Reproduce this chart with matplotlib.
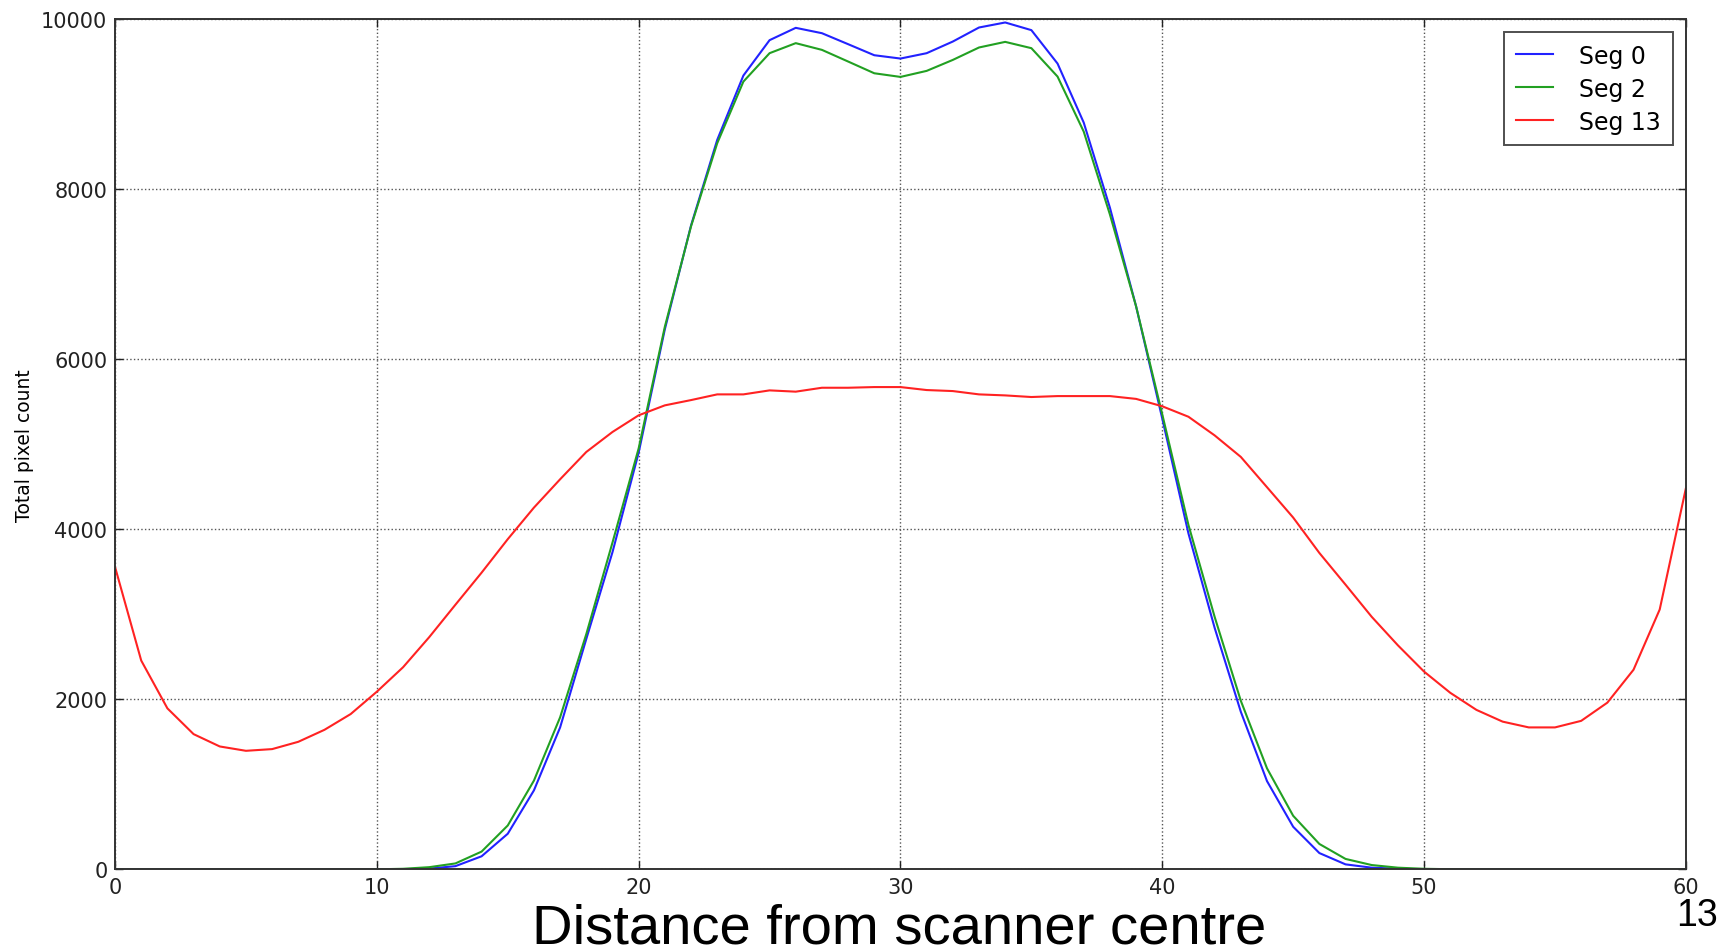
import numpy as np
import matplotlib
matplotlib.use("Agg")
import matplotlib.pyplot as plt

# distance bins
x = np.arange(61)

seg0 = [0, 0, 0, 0, 0, 0, 0, 0, 0, 0,
        0, 3, 10, 39, 155, 420, 930, 1670, 2710, 3730,
        4900, 6350, 7570, 8576, 9333, 9749, 9894, 9831, 9702, 9572,
        9533, 9596, 9733, 9898, 9957, 9867, 9474, 8780, 7780, 6620,
        5300, 3950, 2841, 1854, 1039, 502, 193, 60, 21, 9,
        2, 0, 0, 0, 0, 0, 0, 0, 0, 0, 0]
seg2 = [0, 0, 0, 0, 0, 0, 0, 0, 0, 0,
        2, 8, 27, 71, 210, 517, 1045, 1789, 2767, 3843,
        4950, 6380, 7560, 8537, 9262, 9596, 9714, 9635, 9498, 9360,
        9317, 9388, 9517, 9663, 9729, 9655, 9321, 8674, 7700, 6620,
        5350, 4050, 2970, 1983, 1189, 631, 300, 124, 52, 21,
        8, 3, 0, 0, 0, 0, 0, 0, 0, 0, 0]
seg13 = [3556, 2456, 1894, 1591, 1446, 1395, 1415, 1501, 1642, 1827,
         2090, 2377, 2731, 3112, 3489, 3883, 4254, 4587, 4908, 5143,
         5339, 5456, 5518, 5585, 5585, 5632, 5617, 5663, 5663, 5671,
         5671, 5636, 5624, 5585, 5573, 5554, 5565, 5565, 5565, 5532,
         5445, 5322, 5103, 4850, 4494, 4137, 3721, 3348, 2970, 2635,
         2326, 2077, 1876, 1738, 1670, 1670, 1747, 1961, 2348, 3056, 4481]

fig = plt.figure(figsize=(17.3, 9.53), dpi=100)
ax = fig.add_axes([0.0665, 0.0866, 0.908, 0.8926])

ax.plot(x, seg0, color='#2222ff', lw=1.5, label='Seg 0')
ax.plot(x, seg2, color='#22a022', lw=1.5, label='Seg 2')
ax.plot(x, seg13, color='#ff2222', lw=1.5, label='Seg 13')

ax.set_xlim(0, 60)
ax.set_ylim(0, 10000)
ax.set_xticks(range(0, 61, 10))
ax.set_yticks(range(0, 10001, 2000))
ax.tick_params(direction='in', top=True, right=True, length=6, width=1,
               labelsize=15, pad=5.5, colors='#222222')
for sp in ax.spines.values():
    sp.set_linewidth(1.4)
    sp.set_color('#333333')
ax.grid(True, color='#555555', linestyle=':', lw=1.0)
ax.set_ylabel('Total pixel count', fontsize=13.5, labelpad=5)

leg = ax.legend(loc='upper right', fontsize=17, fancybox=False,
                handlelength=1.6, handletextpad=1.1, borderpad=0.5,
                labelspacing=0.38, borderaxespad=0.55)
leg.get_frame().set_edgecolor('#222222')
leg.get_frame().set_linewidth(1.4)

fig.text(0.52, 0.0095, 'Distance from scanner centre', ha='center', va='baseline',
         fontsize=40.5, family='Liberation Sans')
fig.text(0.993, 0.0283, '13', ha='right', va='baseline', fontsize=27,
         family='Liberation Sans')

fig.savefig('out.png', dpi=100, facecolor='white')
